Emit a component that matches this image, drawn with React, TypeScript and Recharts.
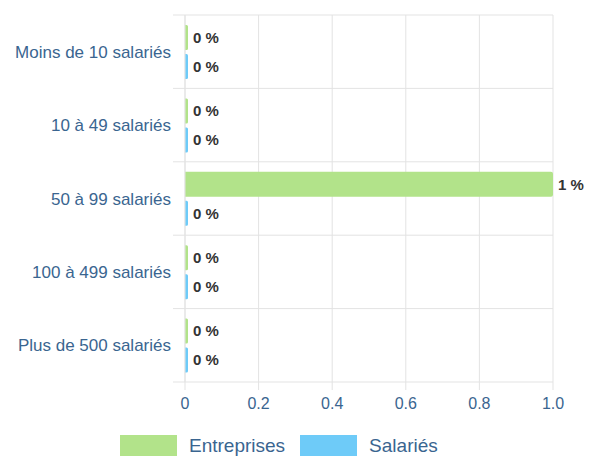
import React from "react";
import {
  BarChart,
  Bar,
  XAxis,
  YAxis,
  CartesianGrid,
  Legend,
  LabelList,
} from "recharts";

const categories = [
  "Moins de 10 salariés",
  "10 à 49 salariés",
  "50 à 99 salariés",
  "100 à 499 salariés",
  "Plus de 500 salariés",
];
const entreprises = [0, 0, 1, 0, 0];
const salaries = [0, 0, 0, 0, 0];
const xTicks = [0, 0.2, 0.4, 0.6, 0.8, 1.0];

const GREEN = "#b2e38a";
const BLUE = "#6ecbf8";
const AXIS_TEXT = "#3a6590";
const GRID = "#e3e3e3";

const data = categories.map((name, i) => ({
  name,
  Entreprises: entreprises[i],
  Salariés: salaries[i],
}));

const legendItems = [
  { label: "Entreprises", color: GREEN },
  { label: "Salariés", color: BLUE },
];

const LegendContent = () => (
  <div
    style={{
      display: "flex",
      alignItems: "flex-start",
      height: 30,
      boxSizing: "border-box",
      paddingTop: 9,
      paddingLeft: 120,
    }}
  >
    {legendItems.map((it) => (
      <div
        key={it.label}
        style={{ display: "flex", alignItems: "center", marginRight: 15 }}
      >
        <span
          style={{
            display: "inline-block",
            width: 57,
            height: 21,
            background: it.color,
            marginRight: 12,
          }}
        />
        <span style={{ fontSize: 19, lineHeight: "21px", color: AXIS_TEXT }}>
          {it.label}
        </span>
      </div>
    ))}
  </div>
);

export default function App() {
  const n = categories.length;
  return (
    <div
      style={{
        position: "absolute",
        left: 0,
        top: 0,
        fontFamily: "'Liberation Sans', Arial, sans-serif",
      }}
    >
      <BarChart
        width={590}
        height={456}
        data={data}
        layout="vertical"
        margin={{ top: 15, right: 37, left: 0, bottom: 14 }}
        barSize={25}
        barGap={4}
      >
        <CartesianGrid
          stroke={GRID}
          verticalValues={xTicks}
          horizontalCoordinatesGenerator={({ offset }: any) =>
            Array.from(
              { length: n + 1 },
              (_, i) => offset.top + (i * offset.height) / n
            )
          }
          horizontal={(p: any) => (
            <line
              key={p.key ?? `h-${p.y1}`}
              x1={p.x1 - 12}
              x2={p.x2}
              y1={p.y1}
              y2={p.y2}
              stroke={GRID}
              strokeWidth={1}
            />
          )}
        />
        <XAxis
          type="number"
          domain={[0, 1]}
          ticks={xTicks}
          tickFormatter={(v: number) => (v === 0 ? "0" : v.toFixed(1))}
          axisLine={false}
          tickLine={{ stroke: GRID }}
          tickSize={8}
          tickMargin={8}
          height={30}
          tick={{ fill: AXIS_TEXT, fontSize: 16 }}
        />
        <YAxis
          type="category"
          dataKey="name"
          width={185}
          axisLine={{ stroke: GRID }}
          tickLine={false}
          tickMargin={8}
          tick={{ fill: AXIS_TEXT, fontSize: 17 }}
        />
        <Legend
          verticalAlign="bottom"
          wrapperStyle={{ bottom: 0 }}
          content={<LegendContent />}
        />
        <Bar
          dataKey="Entreprises"
          fill={GREEN}
          minPointSize={3}
          radius={[0, 2, 2, 0]}
          isAnimationActive={false}
        >
          <LabelList
            dataKey="Entreprises"
            position="right"
            formatter={(v: any) => `${v} %`}
            style={{ fontWeight: "bold", fontSize: 15, fill: "#333" }}
          />
        </Bar>
        <Bar
          dataKey="Salariés"
          fill={BLUE}
          minPointSize={3}
          radius={[0, 2, 2, 0]}
          isAnimationActive={false}
        >
          <LabelList
            dataKey="Salariés"
            position="right"
            formatter={(v: any) => `${v} %`}
            style={{ fontWeight: "bold", fontSize: 15, fill: "#333" }}
          />
        </Bar>
      </BarChart>
    </div>
  );
}
